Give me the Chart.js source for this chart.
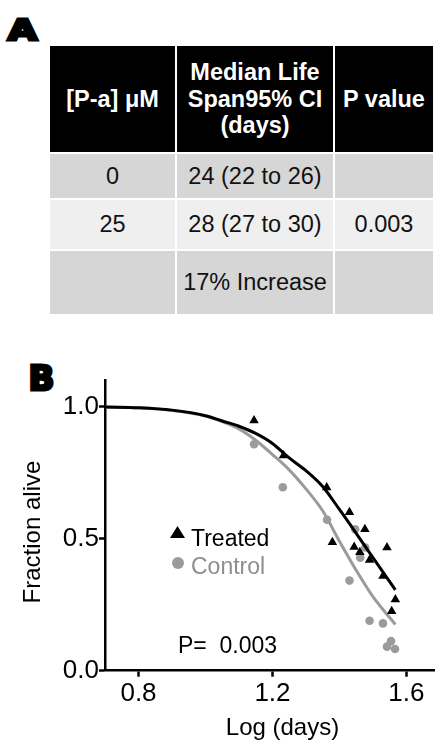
<!DOCTYPE html>
<html>
<head>
<meta charset="utf-8">
<script src="https://cdn.jsdelivr.net/npm/chart.js@4.4.1/dist/chart.umd.min.js"></script>
<style>
  html, body { margin: 0; padding: 0; background: #fff; }
  body { width: 435px; height: 740px; position: relative; overflow: hidden; font-family: "Liberation Sans", Arial, sans-serif; }
  .panel { position: absolute; font-family: "DejaVu Sans", sans-serif; font-weight: bold; line-height: 1; color: #000; -webkit-text-stroke: 3px #000; }
  #labelA { left: 8px; top: 17px; font-size: 28px; transform: scaleX(1.34); transform-origin: left top; }
  #labelB { left: 28.5px; top: 361px; font-size: 34px; }
  #lifespan { position: absolute; left: 50px; top: 46px; display: grid; grid-template-columns: 125px 156px 98px; grid-template-rows: 106px 44px 49px 63px; gap: 2px; font-size: 23.5px; }
  #lifespan div { display: flex; align-items: center; justify-content: center; text-align: center; line-height: 26.5px; white-space: pre-line; }
  #lifespan .head { background: #000; color: #fff; font-weight: bold; }
  #lifespan .dark { background: #d6d6d6; color: #111; }
  #lifespan .light { background: #efefef; color: #111; }
  #chartBox { position: absolute; left: 0; top: 340px; width: 470px; height: 400px; }
  .note { position: absolute; font-size: 23px; line-height: 27px; white-space: pre; }
  .mark { position: absolute; }
</style>
</head>
<body>
<div class="panel" id="labelA">A</div>
<div id="lifespan"></div>

<div class="panel" id="labelB">B</div>
<div id="chartBox"><canvas id="survival"></canvas></div>

<span class="mark" style="left:170px;top:526px;width:15px;height:12px;background:#000;clip-path:polygon(50% 0,100% 100%,0 100%);"></span>
<div class="note" style="left:191px;top:524.5px;color:#000;">Treated</div>
<span class="mark" style="left:172px;top:557px;width:12px;height:12px;border-radius:50%;background:#9b9b9b;"></span>
<div class="note" style="left:191px;top:552.5px;color:#8e8e8e;">Control</div>
<div class="note" style="left:178px;top:631.5px;color:#000;">P=  0.003</div>

<script>
// panel A table
const tableHead = ["[P-a] μM", "Median Life\nSpan95% CI\n(days)", "P value"];
const tableRows = [
  ["0", "24 (22 to 26)", ""],
  ["25", "28 (27 to 30)", "0.003"],
  ["", "17% Increase", ""]
];
const rowShade = ["dark", "light", "dark"];

// panel B survival data (log days vs fraction alive)
const xTicks = [0.8, 1.2, 1.6];
const yTicks = [0, 0.5, 1.0];

const treatedX = [1.145, 1.233, 1.362, 1.430, 1.476, 1.379, 1.444, 1.461, 1.490, 1.542, 1.530, 1.567, 1.556];
const treatedY = [0.947, 0.814, 0.693, 0.600, 0.535, 0.486, 0.468, 0.448, 0.419, 0.466, 0.358, 0.269, 0.225];

const controlX = [1.145, 1.231, 1.363, 1.447, 1.477, 1.462, 1.430, 1.490, 1.530, 1.554, 1.542, 1.566];
const controlY = [0.857, 0.694, 0.571, 0.535, 0.466, 0.428, 0.341, 0.189, 0.179, 0.112, 0.091, 0.082];

// fitted curves
const fitX       = [0.70, 0.80, 0.90, 1.00, 1.05, 1.10, 1.15, 1.20, 1.25, 1.30, 1.35, 1.40, 1.45, 1.50, 1.567];
const treatedFit = [0.998, 0.995, 0.986, 0.965, 0.945, 0.925, 0.898, 0.860, 0.805, 0.757, 0.697, 0.610, 0.520, 0.428, 0.306];
const controlFit = [0.998, 0.995, 0.985, 0.964, 0.943, 0.915, 0.872, 0.818, 0.760, 0.688, 0.605, 0.490, 0.380, 0.280, 0.175];

const grid = document.getElementById("lifespan");
tableHead.forEach(t => {
  const c = document.createElement("div");
  c.className = "head";
  c.textContent = t;
  grid.appendChild(c);
});
tableRows.forEach((row, i) => {
  row.forEach(t => {
    const c = document.createElement("div");
    c.className = rowShade[i];
    c.textContent = t;
    grid.appendChild(c);
  });
});

const pairs = (xs, ys) => xs.map((x, i) => ({ x, y: ys[i] }));
const tickFont = { family: "Liberation Sans", size: 26, lineHeight: 1.2 };
const axisGrid = { display: true, drawOnChartArea: false, drawTicks: true, tickLength: 6, tickWidth: 2.5, tickColor: "#000" };

new Chart(document.getElementById("survival"), {
  type: "scatter",
  data: {
    datasets: [
      {
        label: "Treated",
        data: pairs(treatedX, treatedY),
        pointStyle: "triangle",
        pointRadius: 5.5,
        backgroundColor: "#000",
        borderColor: "#000",
        borderWidth: 0,
        order: 0
      },
      {
        label: "Treated fit",
        data: pairs(fitX, treatedFit),
        showLine: true,
        pointRadius: 0,
        borderColor: "#000",
        borderWidth: 3,
        cubicInterpolationMode: "monotone",
        order: 1
      },
      {
        label: "Control",
        data: pairs(controlX, controlY),
        pointStyle: "circle",
        pointRadius: 4.3,
        backgroundColor: "#9b9b9b",
        borderColor: "#9b9b9b",
        borderWidth: 0,
        order: 2
      },
      {
        label: "Control fit",
        data: pairs(fitX, controlFit),
        showLine: true,
        pointRadius: 0,
        borderColor: "#9b9b9b",
        borderWidth: 3,
        cubicInterpolationMode: "monotone",
        order: 3
      }
    ]
  },
  options: {
    responsive: true,
    maintainAspectRatio: false,
    animation: false,
    layout: { padding: { left: 0, right: 10, top: 40, bottom: 0 } },
    plugins: { legend: { display: false }, tooltip: { enabled: false } },
    scales: {
      x: {
        type: "linear",
        min: 0.7,
        max: 1.76,
        afterBuildTicks: s => { s.ticks = xTicks.map(v => ({ value: v })); },
        afterFit: s => { s.height = 69.3; },
        ticks: { color: "#000", font: tickFont, padding: 2, autoSkip: false, maxRotation: 0, callback: v => Number(v).toFixed(1) },
        grid: axisGrid,
        border: { display: true, color: "#000", width: 2.5 },
        title: { display: true, text: "Log (days)", color: "#000", font: { family: "Liberation Sans", size: 24, lineHeight: 1 }, padding: { top: 0, bottom: 0 } }
      },
      y: {
        type: "linear",
        min: 0,
        max: 1.1,
        afterBuildTicks: s => { s.ticks = yTicks.map(v => ({ value: v })); },
        afterFit: s => { s.width = 105; },
        ticks: { color: "#000", font: tickFont, padding: 0, autoSkip: false, callback: v => Number(v).toFixed(1) },
        grid: axisGrid,
        border: { display: true, color: "#000", width: 2.5 },
        // two trailing spaces nudge the rotated title down to where the figure has it
        title: { display: true, text: "Fraction alive\u00a0\u00a0", color: "#000", font: { family: "Liberation Sans", size: 24, lineHeight: 1 }, padding: { top: 21.5, bottom: 0 } }
      }
    }
  }
});
</script>
</body>
</html>
